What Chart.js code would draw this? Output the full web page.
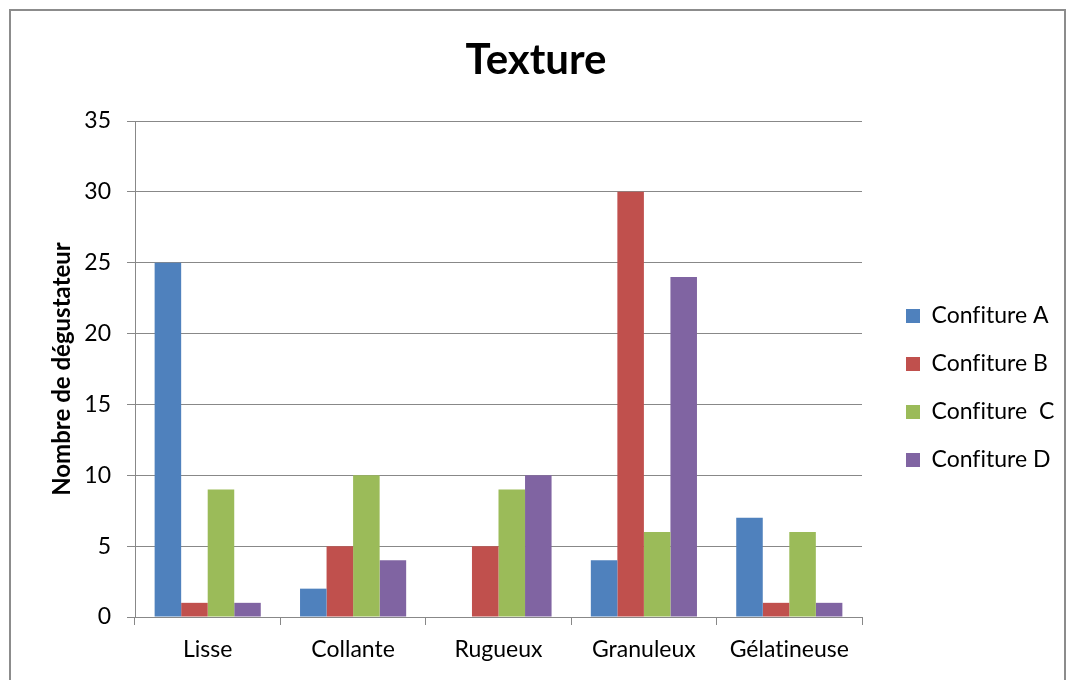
<!DOCTYPE html>
<html><head><meta charset="utf-8">
<script src="https://cdn.jsdelivr.net/npm/chart.js@4/dist/chart.umd.min.js"></script>
<style>
html,body{margin:0;padding:0;background:#fff;overflow:hidden;}
#wrap{position:relative;width:1072px;height:680px;}
#frame{position:absolute;left:9px;top:9px;width:1057px;height:700px;border:2px solid #8c8c8c;box-sizing:border-box;}
canvas{position:absolute;left:0;top:0;}
</style></head>
<body><div id="wrap"><div id="frame"></div><canvas id="c" width="1072" height="680"></canvas></div>
<script>
const categories = ['Lisse', 'Collante', 'Rugueux', 'Granuleux', 'Gélatineuse'];
const seriesNames = ['Confiture A', 'Confiture B', 'Confiture  C', 'Confiture D'];
const confitureA = [25, 2, 0, 4, 7];
const confitureB = [1, 5, 5, 30, 1];
const confitureC = [9, 10, 9, 6, 6];
const confitureD = [1, 4, 10, 24, 1];
const seriesColors = ['#4F81BD', '#C0504D', '#9BBB59', '#8064A2'];
const yTickMin = 0, yTickMax = 35, yTickStep = 5;

const FONT = 'Lato, "Open Sans", sans-serif';
const values = [confitureA, confitureB, confitureC, confitureD];

const legendPlace = {
  id: 'legendPlace',
  beforeLayout(chart) {
    const lg = chart.legend;
    if (lg && !lg._patched) {
      const fit = lg.fit;
      lg.fit = function () { fit.call(this); this.width = 210; };
      lg._patched = true;
    }
  },
  afterLayout(chart) {
    const lg = chart.legend;
    if (lg) { lg.left += 19; lg.right += 19; }
  },
  beforeDraw(chart) {
    const ctx = chart.ctx;
    try { ctx.textRendering = 'optimizeSpeed'; } catch (e) {}
    try { ctx.letterSpacing = '0.01px'; } catch (e) {}
  }
};

new Chart(document.getElementById('c'), {
  type: 'bar',
  data: {
    labels: categories,
    datasets: seriesNames.map((n, i) => ({
      label: n,
      data: values[i],
      backgroundColor: seriesColors[i],
      borderWidth: 0,
      categoryPercentage: 0.73,
      barPercentage: 1.0
    }))
  },
  options: {
    responsive: false,
    devicePixelRatio: 1,
    animation: false,
    layout: { padding: { left: 0, right: 0, top: 0, bottom: 0 } },
    plugins: {
      title: {
        display: true, text: 'Texture', color: '#000',
        font: { family: FONT, size: 42, weight: 'bold' },
        padding: { top: 35, bottom: 35.6 }
      },
      legend: {
        display: true, position: 'right', align: 'center', fullSize: false,
        title: { display: true, text: ' ', font: { size: 10 }, padding: { top: 13, bottom: 13 } },
        labels: {
          boxWidth: 14, boxHeight: 14, padding: 25, color: '#000',
          font: { family: FONT, size: 23 }
        }
      },
      tooltip: { enabled: false }
    },
    scales: {
      x: {
        grid: { display: true, drawOnChartArea: false, drawTicks: true, tickLength: 8, color: '#888', offset: true },
        border: { display: true, color: '#888', width: 1 },
        ticks: { color: '#000', padding: 11, font: { family: FONT, size: 23 } },
        afterFit(s) { s.height = 63; }
      },
      y: {
        min: yTickMin, max: yTickMax,
        ticks: { stepSize: yTickStep, color: '#000', padding: 16, font: { family: FONT, size: 23 } },
        grid: { color: '#888', tickLength: 8 },
        border: { display: true, color: '#888', width: 1 },
        title: {
          display: true, text: 'Nombre de dégustateur', color: '#000',
          font: { family: FONT, size: 24, weight: 'bold' },
          padding: { top: 48, bottom: 0 }
        },
        afterFit(s) { s.width = 135; }
      }
    }
  },
  plugins: [legendPlace]
});
</script>
</body></html>
